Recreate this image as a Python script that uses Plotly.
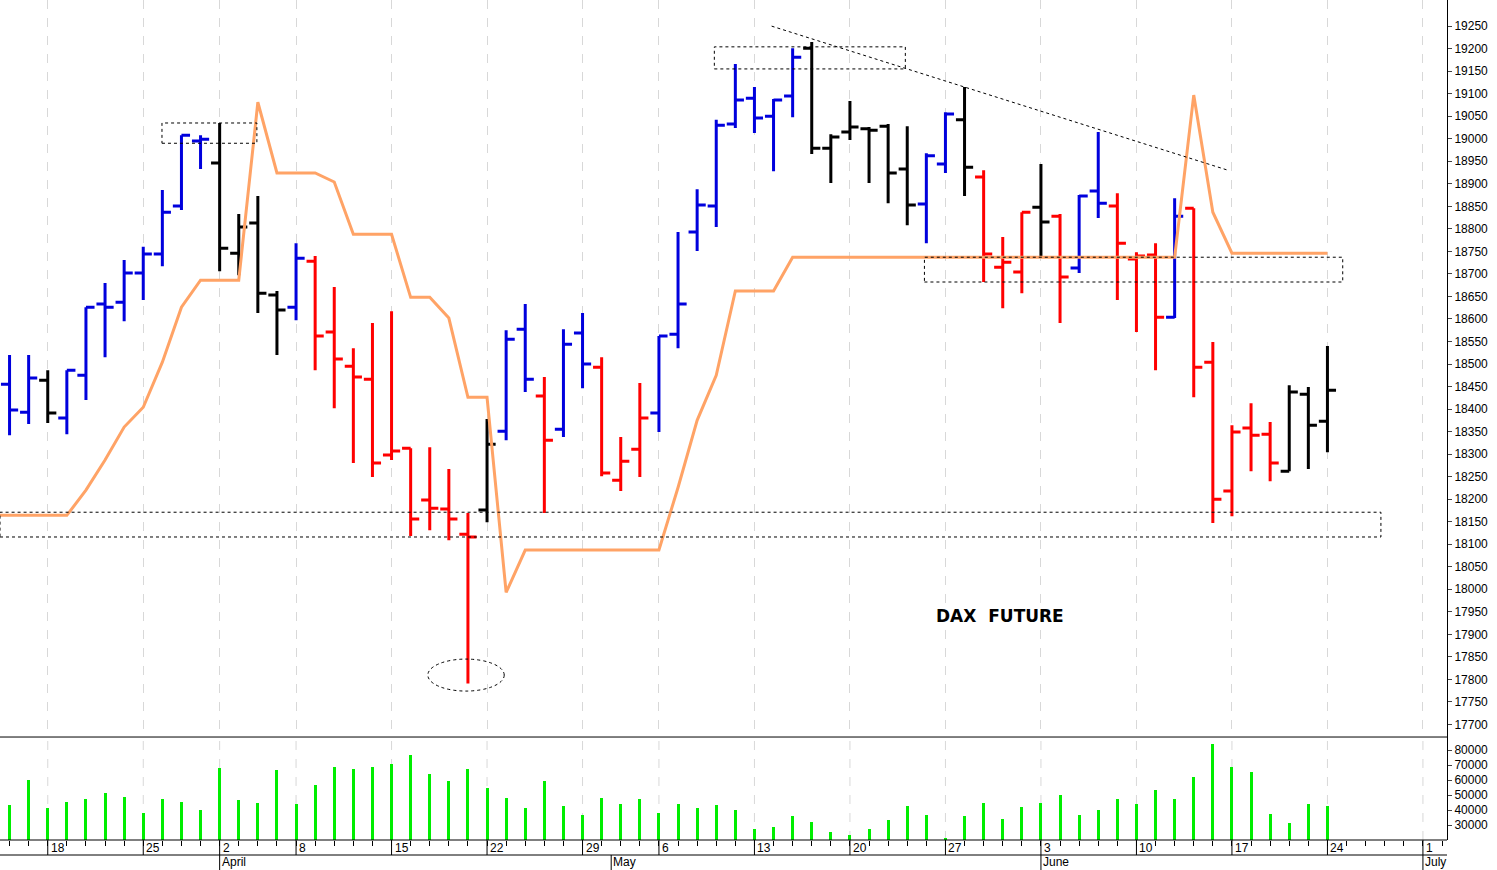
import plotly.graph_objects as go

# trading days, 14 Mar .. 24 Jun 2024
dates = ["03-14", "03-15", "03-18", "03-19", "03-20", "03-21", "03-22", "03-25", "03-26", "03-27",
         "03-28", "04-02", "04-03", "04-04", "04-05", "04-08", "04-09", "04-10", "04-11", "04-12",
         "04-15", "04-16", "04-17", "04-18", "04-19", "04-22", "04-23", "04-24", "04-25", "04-26",
         "04-29", "04-30", "05-02", "05-03", "05-06", "05-07", "05-08", "05-09", "05-10", "05-13",
         "05-14", "05-15", "05-16", "05-17", "05-20", "05-21", "05-22", "05-23", "05-24", "05-27",
         "05-28", "05-29", "05-30", "05-31", "06-03", "06-04", "06-05", "06-06", "06-07", "06-10",
         "06-11", "06-12", "06-13", "06-14", "06-17", "06-18", "06-19", "06-20", "06-21", "06-24"]

opens = [18455, 18393, 18464, 18380, 18475, 18633, 18637, 18702, 18744, 18851,
         18995, 18946, 18746, 18813, 18653, 18626, 18728, 18571, 18495, 18466,
         18298, 18313, 18198, 18178, 18122, 18176, 18351, 18577, 18429, 18355,
         18569, 18493, 18242, 18311, 18391, 18566, 18793, 18851, 19033, 19090,
         19050, 19095, 19201, 18979, 19015, 19022, 19028, 18933, 18855, 18944,
         19042, 18915, 18715, 18704, 18848, 18828, 18713, 18884, 18851, 18733,
         18742, 18604, 18846, 18504, 18218, 18358, 18344, 18262, 18433, 18373]
highs = [18520, 18520, 18486, 18486, 18626, 18680, 18731, 18760, 18886, 19008,
         19008, 19035, 18833, 18873, 18662, 18768, 18740, 18671, 18535, 18591,
         18617, 18313, 18315, 18267, 18169, 18378, 18575, 18633, 18471, 18577,
         18613, 18515, 18338, 18458, 18562, 18793, 18888, 19042, 19166, 19115,
         19088, 19201, 19215, 19010, 19084, 19026, 19033, 19028, 18968, 19059,
         19115, 18930, 18782, 18837, 18944, 18833, 18875, 19015, 18879, 18748,
         18768, 18868, 18846, 18549, 18364, 18413, 18371, 18453, 18449, 18540]
lows = [18342, 18367, 18369, 18344, 18420, 18515, 18595, 18642, 18717, 18842,
        18933, 18706, 18697, 18613, 18520, 18597, 18486, 18402, 18280, 18249,
        18287, 18118, 18131, 18109, 17791, 18149, 18331, 18438, 18169, 18338,
        18446, 18251, 18218, 18249, 18349, 18535, 18751, 18804, 19024, 19013,
        18928, 19048, 18966, 18902, 18997, 18902, 18857, 18808, 18768, 18924,
        18873, 18682, 18624, 18657, 18740, 18591, 18702, 18824, 18642, 18571,
        18486, 18602, 18426, 18147, 18162, 18262, 18240, 18262, 18267, 18304]
closes = [18398, 18469, 18391, 18486, 18626, 18626, 18702, 18744, 18837, 19008,
          18999, 18757, 18804, 18657, 18620, 18735, 18562, 18511, 18471, 18280,
          18307, 18156, 18180, 18156, 18116, 18322, 18555, 18466, 18331, 18544,
          18500, 18258, 18284, 18380, 18562, 18633, 18853, 19030, 19086, 19046,
          19086, 19181, 18979, 19004, 19026, 19019, 18924, 18853, 18962, 19055,
          18937, 18744, 18726, 18837, 18815, 18693, 18873, 18857, 18768, 18740,
          18604, 18828, 18493, 18200, 18349, 18342, 18280, 18438, 18364, 18442]

# bar colour: b = blue, k = black, r = red
bar_color = list("bbkbbbbbbbbkkkkbrrrrrrrrrkbbrbbrrrbbbbbbbbkkkkkkbbkrrrkrbbrrrbrrrrrkkk")

stop_line = [18164, 18164, 18164, 18164, 18220, 18287, 18360, 18404, 18504, 18626,
             18686, 18686, 18686, 19081, 18924, 18924, 18924, 18904, 18788, 18788,
             18788, 18648, 18648, 18602, 18426, 18426, 17993, 18087, 18087, 18087,
             18087, 18087, 18087, 18087, 18087, 18226, 18375, 18475, 18662, 18662,
             18662, 18737, 18737, 18737, 18737, 18737, 18737, 18737, 18737, 18737,
             18737, 18737, 18737, 18737, 18737, 18737, 18737, 18737, 18737, 18737,
             18737, 18737, 19097, 18837, 18746, 18746, 18746, 18746, 18746, 18746]

volume = [43300, 60000, 41100, 45600, 47300, 51600, 48900, 38200, 47600, 45600,
          40000, 68200, 46700, 44900, 66700, 44000, 56700, 68900, 67300, 68900,
          70900, 76700, 63800, 59300, 67300, 54900, 48200, 41100, 59300, 42700,
          36700, 48200, 44000, 47300, 37800, 44000, 41300, 43100, 40000, 27100,
          28900, 36000, 32200, 25600, 23100, 27600, 33300, 42700, 36400, 21000,
          36000, 44400, 33800, 42200, 44400, 50000, 36700, 40000, 47100, 44200,
          53300, 47100, 61800, 83800, 68900, 65300, 37100, 31100, 43800, 42400]

week_idx = [2, 7, 11, 15, 20, 25, 30, 34, 39, 44, 49, 54, 59, 64, 69, 74]
week_lbl = ["18", "25", "2", "8", "15", "22", "29", "6", "13", "20", "27", "3", "10", "17", "24", "1"]
month_idx = [11, 31.5, 54, 74]
month_lbl = ["April", "May", "June", "July"]

n = len(dates)
idx = list(range(n))
colors = {"b": "#0000dd", "k": "#000000", "r": "#ff0000"}

fig = go.Figure()

for key, col in colors.items():
    sel = [i for i in idx if bar_color[i] == key]
    fig.add_trace(go.Ohlc(
        x=sel, open=[opens[i] for i in sel], high=[highs[i] for i in sel],
        low=[lows[i] for i in sel], close=[closes[i] for i in sel],
        increasing=dict(line=dict(color=col, width=3)),
        decreasing=dict(line=dict(color=col, width=3)),
        tickwidth=0.45, hoverinfo="skip", showlegend=False, xaxis="x", yaxis="y"))

fig.add_trace(go.Scatter(x=[-0.5] + idx, y=[stop_line[0]] + stop_line, mode="lines",
                         line=dict(color="#ffa366", width=3), hoverinfo="skip",
                         showlegend=False, xaxis="x", yaxis="y"))

fig.add_trace(go.Bar(x=idx, y=volume, width=0.16, marker=dict(color="#00ee00", line=dict(width=0)),
                     base=0, hoverinfo="skip", showlegend=False, xaxis="x2", yaxis="y2"))

xr = [-0.5, 75.26]
grid = dict(showgrid=True, gridcolor="#d8d8d8", griddash="dash", gridwidth=1)
fig.update_layout(
    width=1497, height=870, paper_bgcolor="white", plot_bgcolor="white",
    margin=dict(l=0, r=50, t=0, b=30, autoexpand=False),
    font=dict(family="Liberation Sans, Arial", size=12, color="black"),
    xaxis=dict(range=xr, domain=[0, 1], anchor="y", tickvals=week_idx, showticklabels=False,
               ticks="", zeroline=False, automargin=False, rangeslider=dict(visible=False), **grid),
    xaxis2=dict(range=xr, domain=[0, 1], anchor="y2", tickvals=list(range(76)), showticklabels=False,
                ticks="outside", ticklen=5, tickcolor="black", showgrid=False, zeroline=False,
                automargin=False),
    yaxis=dict(domain=[0.1226, 1], range=[17672, 19308], side="right", tickvals=list(range(17700, 19251, 50)),
               tickformat="d", ticks="outside", ticklen=4, showgrid=False, zeroline=False, showline=True,
               linecolor="black", tickfont=dict(size=12), automargin=False),
    yaxis2=dict(domain=[0, 0.1226], range=[20000, 88667], side="right", tickformat="d",
                tickvals=list(range(30000, 80001, 10000)), ticks="outside", ticklen=4,
                showgrid=False, zeroline=False, showline=True, linecolor="black", automargin=False),
    bargap=0,
)

# weekly dashed grid in volume pane
for w in week_idx:
    fig.add_shape(type="line", xref="x2", yref="y2", x0=w, x1=w, y0=20000, y1=88667,
                  line=dict(color="#d8d8d8", width=1, dash="dash"), layer="below")

dash = dict(color="black", width=1, dash="dot")
fig.add_shape(type="rect", xref="x", yref="y", x0=7.98, x1=12.95, y0=18990, y1=19035, line=dash)
fig.add_shape(type="rect", xref="x", yref="y", x0=36.9, x1=46.9, y0=19155, y1=19204, line=dash)
fig.add_shape(type="rect", xref="x", yref="y", x0=47.9, x1=69.8, y0=18682, y1=18737, line=dash)
fig.add_shape(type="rect", xref="x", yref="y", x0=-0.5, x1=71.8, y0=18116, y1=18171, line=dash)
fig.add_shape(type="circle", xref="x", yref="y", x0=21.9, x1=25.9, y0=17774, y1=17845, line=dash)
fig.add_shape(type="line", xref="x", yref="y", x0=39.9, x1=63.8, y0=19250, y1=18930, line=dash)

# pane separator and date rows
fig.add_shape(type="line", xref="paper", yref="paper", x0=0, x1=1, y0=0.1226, y1=0.1226,
              line=dict(color="black", width=1))
fig.add_shape(type="line", xref="paper", yref="paper", x0=0, x1=1, y0=0, y1=0,
              line=dict(color="black", width=1))
fig.add_shape(type="line", xref="paper", yref="paper", x0=0, x1=1, y0=-15 / 840, y1=-15 / 840,
              line=dict(color="black", width=1))

for w, lbl in zip(week_idx, week_lbl):
    fig.add_shape(type="line", xref="x2", yref="paper", x0=w, x1=w, y0=0, y1=-15 / 840,
                  line=dict(color="black", width=1))
    fig.add_annotation(x=w, xref="x2", y=1 / 840, yref="paper", text=lbl, showarrow=False,
                       xanchor="left", yanchor="top", xshift=1, font=dict(size=12))
for m, lbl in zip(month_idx, month_lbl):
    fig.add_shape(type="line", xref="x2", yref="paper", x0=m, x1=m, y0=-15 / 840, y1=-30 / 840,
                  line=dict(color="black", width=1))
    fig.add_annotation(x=m, xref="x2", y=-13 / 840, yref="paper", text=lbl, showarrow=False,
                       xanchor="left", yanchor="top", xshift=0, font=dict(size=12))

fig.add_annotation(x=51.85, xref="x", y=17940, yref="y", text="<b>DAX  FUTURE</b>", showarrow=False,
                   font=dict(size=17, family="DejaVu Sans, Verdana"))

fig.write_html("out.html", config={"displayModeBar": False},
               post_script="document.body.style.margin='0';")
